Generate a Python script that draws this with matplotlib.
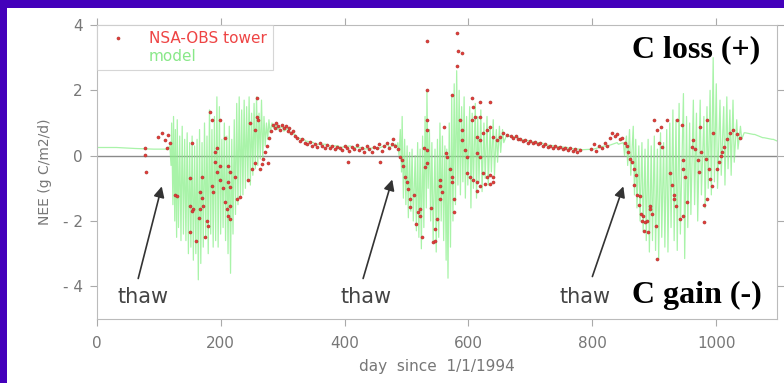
import matplotlib.pyplot as plt
import numpy as np
from matplotlib.lines import Line2D
from matplotlib.patches import Rectangle

# Modelo: dia, maximo y minimo de cada oscilacion
model_day = [0, 30, 60, 90, 112,
             118, 121, 124, 127, 130, 134, 138, 142, 146, 150, 154, 158, 162, 166,
             170, 174, 178, 182, 186, 190, 194, 198, 202, 206, 210, 214, 218, 222,
             226, 230, 234, 238, 242, 246, 250, 254, 258, 262, 266, 270, 274, 278,
             283, 290, 300, 310, 320, 335, 350, 370, 390, 410, 430, 450, 470, 482,
             486, 490, 493, 497, 501, 505, 509, 514, 518, 522, 526, 530, 533, 537,
             541, 546, 550, 554, 558, 562, 565, 569, 573, 577, 581, 585, 589, 593,
             597, 602, 606, 611, 615, 620, 625, 630, 635, 640, 645, 650, 655,
             662, 680, 700, 720, 740, 760, 780, 800, 820, 840,
             850, 855, 860, 866, 870, 875, 880, 885, 890, 895, 900, 905, 910, 915,
             920, 925, 930, 935, 940, 947, 952, 957, 963, 968, 974, 980, 985, 990,
             995, 1000, 1006, 1012, 1017, 1022, 1027, 1033, 1039,
             1045, 1060, 1075, 1090, 1098]
model_hi = [0.25, 0.25, 0.22, 0.2, 0.2,
            0.3, 1.0, 1.2, 0.8, 1.1, 0.6, 0.9, 0.5, 0.7, 0.4, 0.6, 0.3, 0.5, 0.8,
            0.4, 1.0, 0.6, 1.4, 0.8, 1.2, 1.8, 1.5, 0.5, 1.0, 0.6, 0.9, 0.5, 1.1,
            1.6, 1.8, 1.4, 1.7, 1.5, 1.8, 1.3, 1.6, 1.8, 1.3, 1.7, 1.2, 1.0, 1.1,
            1.0, 0.95, 0.9, 0.85, 0.65, 0.5, 0.4, 0.35, 0.3, 0.3, 0.25, 0.25, 0.35, 0.35,
            0.4, 0.8, 1.2, 0.5, 0.3, 0.1, 0.2, 0.0, 0.4, 0.2, 0.6, 1.2, 2.0, 0.8,
            0.4, 0.2, 0.5, 1.0, 0.6, 0.3, 0.2, 1.0, 1.8, 2.2, 2.6, 2.0, 1.5, 1.8,
            1.2, 1.5, 1.3, 1.6, 1.2, 1.4, 1.0, 1.2, 0.9, 1.1, 0.8, 0.9, 0.8,
            0.65, 0.55, 0.45, 0.38, 0.3, 0.25, 0.2, 0.2, 0.3, 0.4,
            0.4, 0.6, 0.8, 0.9, 0.5, 0.3, 0.4, 0.2, 0.5, 0.3, 0.6, 0.2, 0.7, 0.4,
            0.8, 1.0, 1.4, 1.1, 1.6, 1.9, 1.2, 1.0, 1.7, 1.3, 1.7, 1.2, 1.5, 2.0,
            3.0, 2.2, 1.7, 1.5, 1.8, 1.4, 1.7, 1.1, 0.9,
            0.7, 0.65, 0.55, 0.5, 0.45]
model_lo = [0.25, 0.25, 0.22, 0.2, 0.2,
            -0.3, -1.5, -2.0, -2.5, -2.2, -2.6, -2.4, -2.6, -3.0, -2.8, -3.2, -3.0, -3.8, -3.3,
            -2.8, -2.5, -3.0, -2.4, -2.8, -2.6, -2.8, -2.4, -2.2, -2.6, -3.0, -3.6, -2.4, -1.8,
            -1.5, -1.3, -1.2, -1.0, -0.8, -0.9, -0.6, -0.4, -0.3, -0.1, -0.1, 0.3, 0.5, 0.7,
            0.85, 0.8, 0.75, 0.7, 0.55, 0.45, 0.35, 0.3, 0.25, 0.25, 0.2, 0.2, 0.25, 0.25,
            0.0, -0.5, -1.3, -1.5, -1.9, -1.7, -2.0, -2.3, -2.5, -2.85, -2.2, -1.6, -1.0, -2.0,
            -2.6, -2.95, -2.5, -2.0, -2.6, -3.2, -3.75, -2.8, -2.0, -1.5, -0.9, -1.2, -0.8, -1.3,
            -0.9, -1.6, -1.0, -1.3, -0.8, -1.1, -0.7, -0.9, -0.5, -0.6, -0.2, 0.1, 0.4,
            0.6, 0.5, 0.42, 0.33, 0.28, 0.22, 0.18, 0.2, 0.28, 0.35,
            0.0, -0.3, -0.6, -1.2, -1.6, -2.0, -2.3, -2.6, -2.95, -2.6, -2.9, -3.15, -2.5, -2.8,
            -2.95, -2.2, -2.6, -2.9, -2.4, -3.15, -2.2, -1.8, -1.5, -2.0, -1.2, -1.6, -1.0, -1.2,
            -0.8, -1.0, -0.6, -0.9, -0.4, -0.6, -0.2, 0.2, 0.5,
            0.7, 0.65, 0.55, 0.5, 0.45]

# Torre NSA-OBS: dia y NEE
tower_day = [78, 78, 80, 99, 105, 110, 113, 115, 118,
             127, 130, 151, 154, 151, 156, 151, 154, 160, 165, 167, 167, 170, 170, 172,
             178, 180, 175, 183, 186, 199, 194, 191, 191, 194, 186, 188, 207, 199, 212,
             215, 199, 204, 212, 215, 207, 210, 212, 215, 215, 223, 226, 232, 244, 247,
             250, 255, 258, 261, 255, 258, 263, 266, 269, 272, 275, 278, 281, 276,
             284, 287, 290, 293, 296, 299, 302, 305, 308, 311, 314, 317, 320,
             324, 328, 332, 336, 340, 344, 348, 352, 356, 360, 364, 368, 372, 376, 380,
             384, 388, 392, 396, 400, 404, 406, 408, 412, 416, 420, 424, 428, 432, 436,
             440, 444, 448, 452, 457, 456, 460, 464, 468, 472, 476, 479, 482, 486,
             490, 493, 495, 498, 501, 503, 506, 506, 512, 516, 519, 522, 522, 525,
             533, 533, 533, 533, 528, 533, 533, 530, 540, 543, 550, 546, 546, 554,
             554, 558, 554, 560, 563, 565, 573, 571, 574, 574, 576, 576, 581, 583,
             589, 581, 586, 589, 590, 594, 597, 597, 603, 608, 606, 619, 635, 608,
             611, 606, 619, 614, 619, 624, 630, 635, 640, 614, 619, 624, 630, 635,
             640, 614, 619, 627, 635, 640, 614, 646, 651, 656, 663,
             668, 672, 676, 680, 684, 688, 692, 696, 700, 704, 708, 712, 716, 720,
             724, 728, 732, 736, 740, 744, 748, 752, 756, 760, 764, 768, 772, 776, 780,
             797, 802, 806, 810, 815, 820, 824, 828, 832, 836, 840, 844, 848, 852, 856,
             858, 861, 864, 867, 870, 868, 872, 875, 877, 878, 880, 882, 884, 885, 888,
             890, 893, 893, 897, 902, 905, 900, 905, 910, 908, 912, 921, 931, 937, 942,
             944, 925, 928, 932, 935, 947, 947, 950, 953, 947, 961, 963, 966, 970, 972,
             974, 980, 980, 976, 984, 985, 985, 988, 990, 993, 995, 1001, 1004, 1007,
             1010, 1013, 1017, 1022, 1027, 1033, 1039]
tower_nee = [0.25, 0.03, -0.5, 0.58, 0.7, 0.48, 0.24, 0.64, 0.4,
             -1.2, -1.24, -0.67, 0.39, -1.55, -1.64, -2.33, -1.7, -2.6, -1.9, -1.1, -1.64, -0.64, -1.3, -1.55,
             -2.0, -2.15, -2.5, 1.33, 1.1, 1.1, 0.24, 0.12, -0.2, -0.5, -0.93, -1.1, 0.55, -0.33, -0.33,
             -0.5, -0.73, -1.0, -0.8, -0.95, -1.43, -1.64, -1.85, -1.94, -1.55, -0.64, -1.33, -1.27, -0.73, 1.0,
             -0.42, -0.21, 1.18, 1.1, 0.79, 1.76, -0.42, -0.25, -0.1, 0.1, 0.3, 0.55, 0.75, -0.21,
             0.95, 0.85, 1.0, 0.9, 0.8, 0.95, 0.85, 0.9, 0.75, 0.85, 0.7, 0.75, 0.6,
             0.55, 0.45, 0.5, 0.4, 0.35, 0.42, 0.3, 0.35, 0.28, 0.38, 0.3, 0.25, 0.32, 0.22, 0.3,
             0.2, 0.28, 0.25, 0.18, 0.3, 0.22, -0.2, 0.15, 0.28, 0.2, 0.32, 0.18, 0.25, 0.12, 0.3,
             0.2, 0.1, 0.28, 0.22, -0.18, 0.35, 0.15, 0.3, 0.4, 0.25, 0.35, 0.5, 0.3, 0.2,
             -0.03, -0.12, -0.33, -0.64, -0.82, -1.03, -1.33, -1.58, -1.2, -2.1, -1.73, -1.64, -1.85, -2.5,
             3.5, 2.0, 1.1, 0.79, 0.24, 0.18, -0.21, -0.36, -1.6, -2.64, -1.94, -2.24, -2.6, -0.73,
             -0.94, -1.12, -1.33, 0.88, 0.09, -0.03, 1.85, -0.42, -0.64, -0.82, -1.33, -1.73, 3.76, 3.2,
             3.15, 2.76, 1.1, 0.79, 0.48, 0.18, -0.03, -0.52, -0.64, -0.73, 1.76, 1.64, 1.64, 1.48,
             1.18, 1.1, 1.18, 0.58, 0.48, 0.7, 0.79, 0.88, 0.58, 0.09, -0.03, -0.52, -0.64, -0.58,
             -0.64, -0.82, -0.94, -0.88, -0.88, -0.82, -1.09, 0.48, 0.58, 0.7, 0.64,
             0.6, 0.55, 0.6, 0.5, 0.52, 0.45, 0.48, 0.4, 0.45, 0.38, 0.42, 0.35, 0.4, 0.3,
             0.35, 0.28, 0.3, 0.25, 0.3, 0.22, 0.28, 0.2, 0.25, 0.18, 0.22, 0.15, 0.2, 0.1, 0.18,
             0.2, 0.35, 0.15, 0.3, 0.25, 0.4, 0.3, 0.55, 0.7, 0.6, 0.65, 0.5, 0.55, 0.4, 0.3,
             0.1, -0.1, -0.2, -0.4, -0.6, -0.9, -1.2, -1.5, -1.24, -1.8, -2.0, -1.85, -2.3, -2.03, -2.0,
             -2.33, -1.55, -1.64, -1.8, -2.15, -3.15, 1.1, 0.8, 0.88, 0.4, 0.27, 1.1, -1.33, 1.1, -1.94,
             0.95, -0.52, -0.9, -1.2, -1.55, -0.42, -0.12, -0.64, -1.43, -1.85, 0.27, 0.48, 0.2, -0.12, -0.5,
             0.88, -2.03, -1.5, 0.1, -0.1, -1.33, 1.1, -0.42, -0.7, -0.94, 0.7, -0.42, -0.2, 0.0,
             0.1, 0.27, 0.5, 0.7, 0.8, 0.65, 0.55]

x_ticks = [0, 200, 400, 600, 800, 1000]
y_ticks = [-4, -2, 0, 2, 4]
y_tick_labels = ['- 4', '- 2', '0', '2', '4']

# zigzag del modelo: maximo en el dia, minimo dos dias despues
mx = np.column_stack([model_day, np.array(model_day) + 2]).ravel()
my = np.column_stack([model_hi, model_lo]).ravel()

fig = plt.figure(figsize=(7.84, 3.83), dpi=100)
fig.patch.set_facecolor('#4400bb')
fig.patches.append(Rectangle((7 / 784, 0), 1, 1 - 8 / 383, transform=fig.transFigure,
                             facecolor='white', edgecolor='none', zorder=-10))

ax = fig.add_axes([96.7 / 784, (383 - 319) / 383, (777 - 96.7) / 784, (319 - 25) / 383])
ax.set_facecolor('white')

ax.axhline(0, color='#8a8a8a', linewidth=1.0, zorder=1)
model_line, = ax.plot(mx, my, color='#8cf08c', linewidth=0.9, alpha=0.75, zorder=2, label='model')
tower_line, = ax.plot(tower_day, tower_nee, linestyle='none', marker='o', markersize=2.2,
                      markerfacecolor='#e83a3a', markeredgecolor='#a83a30', markeredgewidth=0.4,
                      zorder=3, label='NSA-OBS tower')

ax.set_xlim(0, 1098)
ax.set_ylim(-5, 4)
ax.set_xticks(x_ticks)
ax.set_yticks(y_ticks)
ax.set_yticklabels(y_tick_labels)
ax.tick_params(axis='both', colors='#aaaaaa', labelcolor='#777777', labelsize=11,
               length=5, direction='out', top=True, right=True)
ax.tick_params(axis='y', pad=5)
ax.tick_params(axis='x', pad=7)
for s in ax.spines.values():
    s.set_color('#bbbbbb')

ax.set_xlabel('day  since  1/1/1994', color='#777777', fontsize=11, labelpad=6)
ax.set_ylabel('NEE (g C/m2/d)', color='#777777', fontsize=10, labelpad=8)

proxy = Line2D([], [], linestyle='none')
leg = ax.legend([tower_line, proxy], ['NSA-OBS tower', 'model'], loc='upper left',
                fontsize=11, frameon=True, fancybox=False, borderpad=0.4,
                handlelength=2.0, handletextpad=1.0, labelspacing=0.2,
                borderaxespad=0.0)
leg.get_frame().set_edgecolor('#cccccc')
leg.get_frame().set_linewidth(0.8)
leg.get_texts()[0].set_color('#ee4444')
leg.get_texts()[1].set_color('#88e888')

# flechas de deshielo
thaw_tail = [(67, -3.76), (430, -3.76), (800, -3.7)]
thaw_head = [(105, -0.94), (477, -0.73), (850, -0.94)]
thaw_text = [75, 435, 789]
for (tx, ty), (hx, hy), lx in zip(thaw_tail, thaw_head, thaw_text):
    ax.annotate('', xy=(hx, hy), xytext=(tx, ty),
                arrowprops=dict(arrowstyle='-|>', color='#333333', lw=1.2,
                                mutation_scale=16, shrinkA=0, shrinkB=0))
    ax.text(lx, -4.52, 'thaw', ha='center', va='baseline', fontsize=15,
            color='#444444')

ax.text(864, 3.0, 'C loss (+)', ha='left', va='baseline', fontsize=23,
        family='Liberation Serif', weight='bold', color='black')
ax.text(864, -4.52, 'C gain (-)', ha='left', va='baseline', fontsize=23,
        family='Liberation Serif', weight='bold', color='black')

fig.savefig('out.png', dpi=100, facecolor=fig.get_facecolor())
